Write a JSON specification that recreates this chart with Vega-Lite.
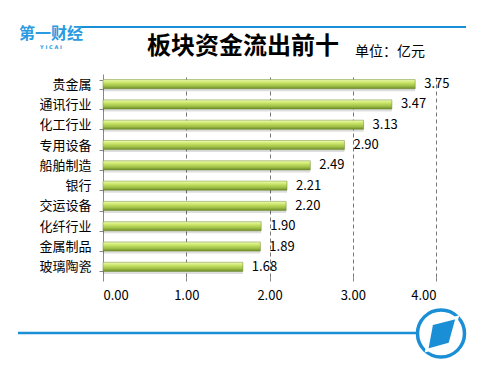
{
  "$schema": "https://vega.github.io/schema/vega-lite/v6.json",
  "autosize": "none",
  "width": 333,
  "height": 203,
  "padding": {"left": 103, "top": 74, "right": 56, "bottom": 96},
  "background": "white",
  "config": {
    "view": {"stroke": null},
    "font": "Noto Sans CJK SC"
  },
  "datasets": {
    "flows": [
      {"sector": "贵金属", "value": 3.75},
      {"sector": "通讯行业", "value": 3.47},
      {"sector": "化工行业", "value": 3.13},
      {"sector": "专用设备", "value": 2.90},
      {"sector": "船舶制造", "value": 2.49},
      {"sector": "银行", "value": 2.21},
      {"sector": "交运设备", "value": 2.20},
      {"sector": "化纤行业", "value": 1.90},
      {"sector": "金属制品", "value": 1.89},
      {"sector": "玻璃陶瓷", "value": 1.68}
    ],
    "one": [{"k": 1}]
  },
  "layer": [
    {
      "data": {"name": "flows"},
      "mark": {"type": "bar", "color": "#000000", "opacity": 0.13, "yOffset": 2.5},
      "encoding": {
        "y": {
          "field": "sector",
          "type": "nominal",
          "sort": null,
          "scale": {"paddingInner": 0.55, "paddingOuter": 0.275},
          "axis": {
            "title": null,
            "labelFont": "Noto Sans CJK SC",
            "labelFontSize": 13,
            "labelColor": "#000000",
            "labelPadding": 8,
            "tickSize": 4,
            "tickColor": "#888888",
            "tickBand": "extent",
            "domainColor": "#888888",
            "grid": false
          }
        },
        "x": {
          "field": "value",
          "type": "quantitative",
          "scale": {"domain": [0, 4]},
          "axis": {
            "title": null,
            "values": [0, 1, 2, 3, 4],
            "format": ".2f",
            "labelFont": "Noto Sans CJK SC",
            "labelFontSize": 13,
            "labelColor": "#000000",
            "labelPadding": 8,
            "tickSize": 4,
            "tickColor": "#888888",
            "domain": false,
            "grid": true,
            "gridColor": "#777777",
            "gridDash": [4, 3],
            "gridWidth": 1
          }
        }
      }
    },
    {
      "data": {"name": "flows"},
      "mark": {
        "type": "bar",
        "stroke": "#6f8a2c",
        "strokeWidth": 0.5,
        "color": {
          "gradient": "linear",
          "x1": 0, "y1": 0, "x2": 0, "y2": 1,
          "stops": [
            {"offset": 0, "color": "#f0fbb8"},
            {"offset": 0.3, "color": "#cde86c"},
            {"offset": 0.7, "color": "#9fbf46"},
            {"offset": 1, "color": "#6c8a2a"}
          ]
        }
      },
      "encoding": {
        "y": {"field": "sector", "type": "nominal", "sort": null},
        "x": {"field": "value", "type": "quantitative"}
      }
    },
    {
      "data": {"name": "flows"},
      "mark": {"type": "text", "align": "left", "baseline": "middle", "dx": 9, "fontSize": 13, "font": "Noto Sans CJK SC", "color": "#000000"},
      "encoding": {
        "y": {"field": "sector", "type": "nominal", "sort": null},
        "x": {"field": "value", "type": "quantitative"},
        "text": {"field": "value", "type": "quantitative", "format": ".2f"}
      }
    },
    {
      "data": {"name": "one"},
      "mark": {"type": "rule", "color": "#1a8fd6", "strokeWidth": 2},
      "encoding": {"x": {"value": -23}, "x2": {"value": 363}, "y": {"value": -47}}
    },
    {
      "data": {"name": "one"},
      "mark": {"type": "rule", "color": "#1a8fd6", "strokeWidth": 2.5},
      "encoding": {"x": {"value": -85}, "x2": {"value": 314}, "y": {"value": 259}}
    },
    {
      "data": {"name": "one"},
      "mark": {"type": "point", "shape": "circle", "filled": false, "stroke": "#1a8fd6", "strokeWidth": 3.5, "size": 2209, "opacity": 1},
      "encoding": {"x": {"value": 338}, "y": {"value": 259.5}}
    },
    {
      "data": {"name": "one"},
      "mark": {"type": "point", "shape": "M-0.4,-0.41L0.69,-0.69L0.38,0.44L-0.61,0.72Z", "filled": true, "fill": "#1a8fd6", "stroke": "white", "strokeWidth": 3, "size": 2209, "opacity": 1},
      "encoding": {"x": {"value": 338}, "y": {"value": 259.5}}
    },
    {
      "data": {"name": "one"},
      "mark": {"type": "text", "text": "第一财经", "font": "Noto Sans CJK SC", "fontSize": 16, "fontWeight": "bold", "color": "#2a9be0", "align": "center", "baseline": "alphabetic"},
      "encoding": {"x": {"value": -52}, "y": {"value": -35}}
    },
    {
      "data": {"name": "one"},
      "mark": {"type": "text", "text": "Y   I   C   A   I", "font": "DejaVu Sans", "fontSize": 5, "fontWeight": "bold", "color": "#2a9be0", "align": "center", "baseline": "middle"},
      "encoding": {"x": {"value": -52}, "y": {"value": -27}}
    },
    {
      "data": {"name": "one"},
      "mark": {"type": "text", "text": "板块资金流出前十", "font": "Noto Sans CJK SC", "fontSize": 24, "fontWeight": "bold", "color": "#000000", "align": "center", "baseline": "middle"},
      "encoding": {"x": {"value": 140}, "y": {"value": -27}}
    },
    {
      "data": {"name": "one"},
      "mark": {"type": "text", "text": "单位：亿元", "font": "Noto Sans CJK SC", "fontSize": 14, "color": "#000000", "align": "left", "baseline": "middle"},
      "encoding": {"x": {"value": 252}, "y": {"value": -22}}
    }
  ]
}
